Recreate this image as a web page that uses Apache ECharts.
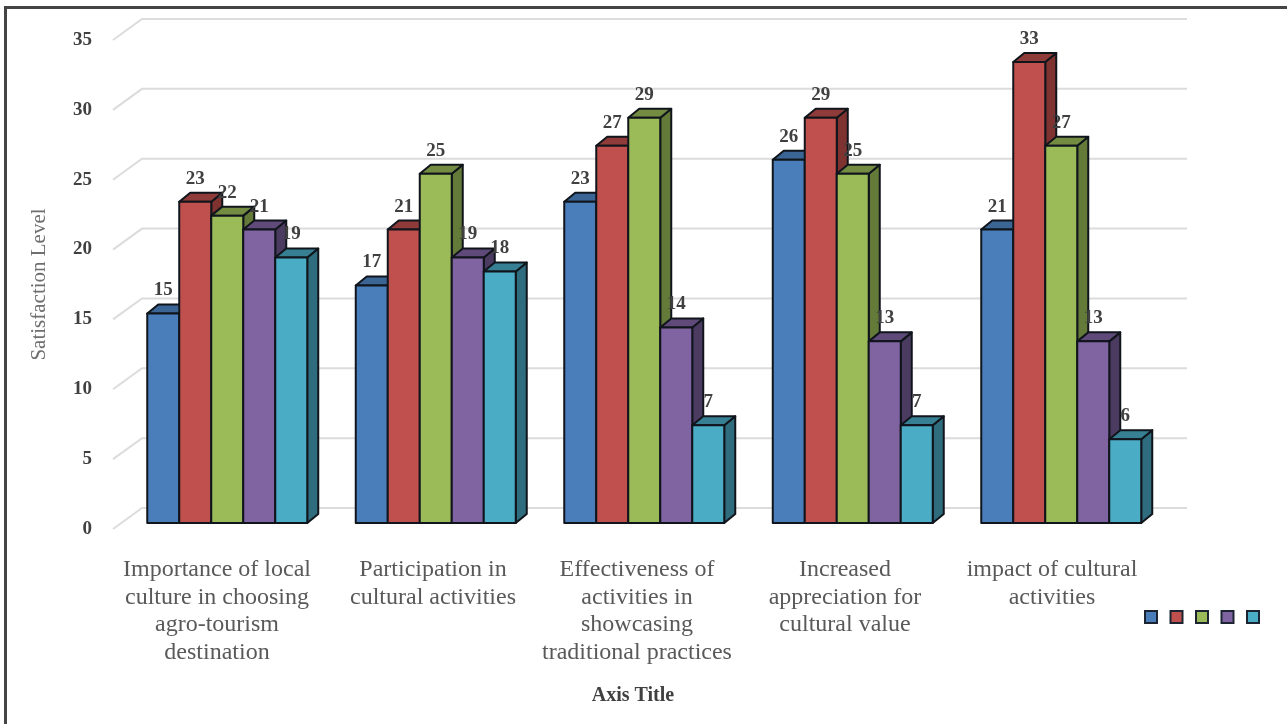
<!DOCTYPE html>
<html><head><meta charset="utf-8">
<style>html,body{margin:0;padding:0;background:#fff}#c{width:1287px;height:724px}</style>
<script src="https://cdn.jsdelivr.net/npm/echarts@6/dist/echarts.min.js"></script>
</head><body><div id="c"></div>
<script>
const categories = [
  'Importance of local\nculture in choosing\nagro-tourism\ndestination',
  'Participation in\ncultural activities',
  'Effectiveness of\nactivities in\nshowcasing\ntraditional practices',
  'Increased\nappreciation for\ncultural value',
  'impact of cultural\nactivities'
];
const labelShift = [0, 16, 8, 8, 6];
const series1 = [15, 17, 23, 26, 21];
const series2 = [23, 21, 27, 29, 33];
const series3 = [22, 25, 29, 25, 27];
const series4 = [21, 19, 14, 13, 13];
const series5 = [19, 18, 7, 7, 6];
const yTicks = [0, 5, 10, 15, 20, 25, 30, 35];
const allSeries = [series1, series2, series3, series4, series5];
const fronts = ['#4A7EBB', '#C0504D', '#9BBB59', '#8064A2', '#4BACC6'];
const tops = ['#3B6594', '#8E3B39', '#748C42', '#5F4A79', '#378094'];
const sides = ['#2F5177', '#7F3331', '#647A39', '#4C3B61', '#2F6C7D'];
const SERIF = '"Liberation Serif","Times New Roman",serif';
const DX = 11, DY = -9, EDGE = '#10151c';
const BAR_FRAC = 32 / 208.5;

const barSeries = allSeries.map((vals, si) => ({
  type: 'custom', name: 'Series' + (si + 1), xAxisIndex: 0, yAxisIndex: 0, z: 3,
  itemStyle: { color: fronts[si], borderColor: '#1b2430', borderWidth: 2 },
  data: vals.map((v, i) => [i, v]),
  renderItem(params, api) {
    const band = api.size([1, 0])[0];
    const w = band * BAR_FRAC;
    const c = api.coord([api.value(0), api.value(1)]);
    const b = api.coord([api.value(0), 0]);
    const x0 = c[0] - w * 2.5 + si * w, x1 = x0 + w, yt = c[1], yb = b[1];
    const line = { stroke: EDGE, lineWidth: 2, lineJoin: 'round' };
    return { type: 'group', children: [
      { type: 'polygon', shape: { points: [[x1, yt], [x1 + DX, yt + DY], [x1 + DX, yb + DY], [x1, yb]] }, style: { fill: sides[si], ...line } },
      { type: 'polygon', shape: { points: [[x0, yt], [x0 + DX, yt + DY], [x1 + DX, yt + DY], [x1, yt]] }, style: { fill: tops[si], ...line } },
      { type: 'rect', shape: { x: x0, y: yt, width: w, height: yb - yt }, style: { fill: fronts[si], ...line } }
    ] };
  }
}));

const labelSeries = {
  type: 'custom', xAxisIndex: 0, yAxisIndex: 0, z: 6, silent: true,
  data: allSeries.flatMap((vals, si) => vals.map((v, i) => [i, v, si])),
  renderItem(params, api) {
    const band = api.size([1, 0])[0], w = band * BAR_FRAC;
    const c = api.coord([api.value(0), api.value(1)]);
    const cx = c[0] - w * 2.5 + (api.value(2) + 0.5) * w;
    return { type: 'text', style: { x: cx, y: c[1] - 23, text: String(api.value(1)), fill: '#404040', font: 'bold 19px ' + SERIF, textAlign: 'center', textVerticalAlign: 'middle' } };
  }
};

const wallSeries = {
  type: 'custom', xAxisIndex: 1, yAxisIndex: 1, z: 1, silent: true,
  data: yTicks.map(v => [0, v]),
  renderItem(params, api) {
    const p = api.coord([0, api.value(1)]);
    const x0 = params.coordSys.x;
    return { type: 'polyline', shape: { points: [[x0, p[1]], [x0 + 29, p[1] - 21], [1187, p[1] - 21]] }, style: { stroke: '#dcdcdc', lineWidth: 2, fill: null } };
  }
};

const chart = echarts.init(document.getElementById('c'));
chart.setOption({
  backgroundColor: '#fff',
  animation: false,
  graphic: [
    { type: 'line', z: 0, shape: { x1: 4, y1: 7.5, x2: 1287, y2: 7.5 }, style: { stroke: '#444', lineWidth: 3 } },
    { type: 'line', z: 0, shape: { x1: 5.5, y1: 6, x2: 5.5, y2: 724 }, style: { stroke: '#444', lineWidth: 3 } }
  ],
  grid: [
    { left: 123, width: 1042.5, top: 34, height: 489 },
    { left: 113, width: 1040, top: 40, height: 489 }
  ],
  xAxis: [
    { type: 'category', gridIndex: 0, data: categories.map((c, i) => i), axisLine: { show: false }, axisTick: { show: false }, axisLabel: { show: false } },
    { type: 'category', gridIndex: 1, position: 'bottom', data: categories.map((c, i) => ({ value: c, textStyle: { padding: [0, 0, 0, labelShift[i]] } })),
      axisLine: { show: false }, axisTick: { show: false },
      axisLabel: { interval: 0, margin: 27, color: '#595959', fontFamily: SERIF, fontSize: 24, lineHeight: 27.5 },
      name: 'Axis Title', nameLocation: 'middle', nameGap: 157, nameTextStyle: { color: '#404040', fontFamily: SERIF, fontSize: 20, fontWeight: 'bold' } }
  ],
  yAxis: [
    { type: 'value', gridIndex: 0, min: 0, max: 35, interval: 5, axisLine: { show: false }, axisTick: { show: false }, axisLabel: { show: false }, splitLine: { show: false } },
    { type: 'value', gridIndex: 1, min: 0, max: 35, interval: 5, axisLine: { show: false }, axisTick: { show: false }, splitLine: { show: false },
      axisLabel: { margin: 21, color: '#404040', fontFamily: SERIF, fontSize: 19, fontWeight: 'bold' },
      name: 'Satisfaction Level', nameLocation: 'middle', nameGap: 63, nameRotate: 90, nameTextStyle: { color: '#6f6f6f', fontFamily: SERIF, fontSize: 21 } }
  ],
  legend: { left: 1139, top: 605, itemWidth: 12, itemHeight: 12, itemGap: 11.5, formatter: () => '', icon: 'rect', selectedMode: false,
    data: allSeries.map((_, si) => 'Series' + (si + 1)) },
  series: [wallSeries, ...barSeries, labelSeries]
});
</script></body></html>
